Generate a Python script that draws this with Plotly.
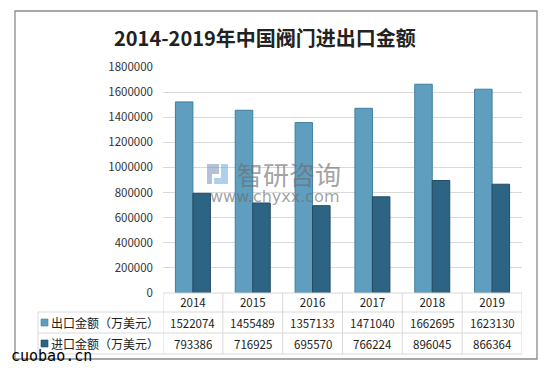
import plotly.graph_objects as go

years = ["2014", "2015", "2016", "2017", "2018", "2019"]
export_vals = [1522074, 1455489, 1357133, 1471040, 1662695, 1623130]
import_vals = [793386, 716925, 695570, 766224, 896045, 866364]
series_names = ["出口金额（万美元）", "进口金额（万美元）"]
title_text = "2014-2019年中国阀门进出口金额"
y_ticks = [0, 200000, 400000, 600000, 800000, 1000000, 1200000, 1400000, 1600000, 1800000]

W, H = 550, 370
L, R, T, B = 163, 522, 67, 293  # plot area in px


def px(x):
    return (x - L) / (R - L)


def py(y):
    return (B - y) / (B - T)


exp_color = "#5F9EBF"
imp_color = "#2E6483"
font_cjk = "Noto Sans CJK SC"

fig = go.Figure()
fig.add_trace(go.Bar(x=years, y=export_vals, name=series_names[0],
                     marker=dict(color=exp_color, line=dict(color="#3F7F9F", width=1))))
fig.add_trace(go.Bar(x=years, y=import_vals, name=series_names[1],
                     marker=dict(color=imp_color, line=dict(color="#234B63", width=1))))

shapes = []
grid_c = "#D9D9D9"
# outer border
shapes.append(dict(type="rect", xref="paper", yref="paper", x0=px(15), x1=px(537), y0=py(359), y1=py(11),
                   line=dict(color="#8C8C8C", width=1.3), layer="below"))
# table horizontal lines
shapes.append(dict(type="line", xref="paper", yref="paper", x0=0, x1=1, y0=py(293), y1=py(293),
                   line=dict(color=grid_c, width=1)))
for yy in [312, 333, 354]:
    shapes.append(dict(type="line", xref="paper", yref="paper", x0=px(38), x1=1, y0=py(yy), y1=py(yy),
                       line=dict(color=grid_c, width=1)))
# table vertical lines
shapes.append(dict(type="line", xref="paper", yref="paper", x0=px(38), x1=px(38), y0=py(312), y1=py(354),
                   line=dict(color=grid_c, width=1)))
for i in range(len(years) + 1):
    shapes.append(dict(type="line", xref="x", yref="paper", x0=i - 0.5, x1=i - 0.5, y0=py(293), y1=py(354),
                       line=dict(color=grid_c, width=1)))
# legend keys
for j, (c, lc) in enumerate([(exp_color, "#3F7F9F"), (imp_color, "#234B63")]):
    yc = [322.5, 343.5][j]
    shapes.append(dict(type="rect", xref="paper", yref="paper", x0=px(41), x1=px(48), y0=py(yc + 3.5), y1=py(yc - 3.5),
                       fillcolor=c, line=dict(color=lc, width=0.6)))
# watermark logo (simplified)
shapes.append(dict(type="path", xref="paper", yref="paper",
                   path=f"M {px(207)},{py(164)} L {px(219)},{py(164)} L {px(219)},{py(174)} L {px(212)},{py(174)} L {px(212)},{py(184)} L {px(207)},{py(184)} Z",
                   fillcolor="rgba(120,140,190,0.55)", line=dict(width=0)))
shapes.append(dict(type="path", xref="paper", yref="paper",
                   path=f"M {px(221)},{py(164)} L {px(228)},{py(164)} L {px(228)},{py(184)} L {px(214)},{py(184)} L {px(214)},{py(178)} L {px(221)},{py(178)} Z",
                   fillcolor="rgba(110,170,220,0.55)", line=dict(width=0)))

annotations = []
annotations.append(dict(text=f"<b>{title_text}</b>", xref="paper", yref="paper", x=px(265), y=py(38),
                        xanchor="center", yanchor="middle", showarrow=False,
                        font=dict(family=font_cjk, size=20, color="#222222")))
row_y = [322.5, 343.5]
for j, vals in enumerate([export_vals, import_vals]):
    annotations.append(dict(text=series_names[j], xref="paper", yref="paper", x=px(49), y=py(row_y[j]),
                            xanchor="left", yanchor="middle", showarrow=False,
                            font=dict(family=font_cjk, size=12, color="#222222")))
    for i, v in enumerate(vals):
        annotations.append(dict(text=str(v), xref="x", yref="paper", x=i, y=py(row_y[j]),
                                xanchor="center", yanchor="middle", showarrow=False,
                                font=dict(family=font_cjk, size=11.5, color="#222222")))
# watermark text
annotations.append(dict(text="智研咨询", xref="paper", yref="paper", x=px(289), y=py(173),
                        xanchor="center", yanchor="middle", showarrow=False,
                        font=dict(family=font_cjk, size=26, color="rgba(110,110,110,0.65)")))
annotations.append(dict(text="www.chyxx.com", xref="paper", yref="paper", x=px(274), y=py(196),
                        xanchor="center", yanchor="middle", showarrow=False,
                        font=dict(family="DejaVu Sans", size=16, color="rgba(110,110,110,0.65)")))
annotations.append(dict(text="cuobao.cn", xref="paper", yref="paper", x=px(9), y=py(356),
                        xanchor="left", yanchor="middle", showarrow=False,
                        font=dict(family="DejaVu Sans Mono", size=15, color="#000000")))

fig.update_layout(
    width=W, height=H,
    margin=dict(l=L, r=W - R, t=T, b=H - B, pad=0),
    paper_bgcolor="white", plot_bgcolor="white",
    barmode="group", bargap=0.415, bargroupgap=0,
    showlegend=False,
    shapes=shapes, annotations=annotations,
    font=dict(family=font_cjk, color="#333333"),
)
fig.update_xaxes(type="category", range=[-0.5, len(years) - 0.5], showgrid=False, showline=False, zeroline=False, ticks="",
                 tickfont=dict(family=font_cjk, size=11.5, color="#222222"), ticklabelstandoff=1)
fig.update_yaxes(range=[0, 1800000], tickvals=y_ticks, ticktext=[str(v) for v in y_ticks],
                 showgrid=True, gridcolor=grid_c, gridwidth=1, zeroline=False, showline=False, ticks="",
                 tickfont=dict(family=font_cjk, size=11.5, color="#333333"), ticklabelstandoff=9)

fig.write_html("out.html", config={"displayModeBar": False},
               post_script="document.body.style.margin='0';document.body.style.overflow='hidden';")
